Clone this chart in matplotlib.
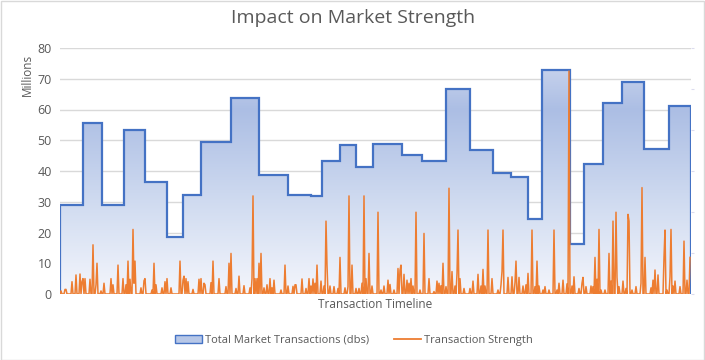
import numpy as np
import matplotlib
matplotlib.use("Agg")
import matplotlib.pyplot as plt
from matplotlib.colors import LinearSegmentedColormap
from matplotlib.patches import Rectangle, Patch, Polygon
from matplotlib.lines import Line2D

plt.rcParams["font.family"] = ["Open Sans", "DejaVu Sans"]

title = "Impact on Market Strength"
x_label = "Transaction Timeline"
y_unit_label = "Millions"
series_names = ["Total Market Transactions (dbs)", "Transaction Strength"]
y_ticks = [0, 10, 20, 30, 40, 50, 60, 70, 80]

# Total market transactions (millions): level and how many transactions it lasts
market_levels = [29.0, 55.5, 29.0, 53.3, 36.5, 18.5, 32.3, 49.3, 63.7, 38.8,
                 32.2, 31.8, 43.3, 48.4, 41.4, 48.8, 45.3, 43.3, 66.8, 46.9,
                 39.4, 38.1, 24.5, 73.0, 16.4, 42.4, 62.2, 68.8, 47.2, 61.2]
market_spans = [23, 19, 22, 21, 22, 16, 18, 30, 28, 29,
                23, 11, 18, 16, 17, 29, 20, 24, 24, 23,
                18, 17, 14, 28, 14, 19, 19, 22, 25, 22]

# Transaction strength (millions): transaction index and value (others are 0)
strength_index = [
    1, 5, 6, 12, 16, 20, 22, 23, 25, 30, 33, 36, 37, 41, 44, 51, 53, 58, 63, 66,
    68, 70, 73, 74, 75, 81, 84, 85, 92, 94, 96, 102, 105, 107,
    111, 120, 123, 124, 126, 128, 133, 139, 141, 144, 145, 151, 153, 159, 166, 169,
    171, 176, 179, 184, 190, 192, 193, 195, 197, 199, 201, 204, 207, 210, 212, 214,
    221, 225, 228, 233, 235, 236, 242, 246, 249, 251, 253, 255, 257, 261, 264, 266,
    267, 270, 274, 278, 280, 285, 288, 289, 292, 296, 299, 302, 304, 306, 309, 312, 318,
    321, 324, 328, 330, 334, 338, 340, 341, 344, 347, 349, 351, 353, 356, 360, 364,
    369, 374, 377, 379, 381, 383, 386, 389, 392, 395, 397, 398, 400, 404, 410, 413,
    418, 421, 423, 425, 428,
    432, 438, 441, 442, 443, 448, 452, 455, 456, 459, 463, 466, 468, 472, 475, 477,
    479, 483, 485, 489, 494, 497, 499, 503, 507, 509, 512, 514, 519, 522, 523, 526,
    531, 533, 535,
    537, 539, 541, 545, 549, 551, 553, 556, 557, 559, 563, 566, 568, 569, 572, 576,
    581, 582, 585, 591, 593, 595, 598, 604, 605, 607, 610, 611, 613, 615, 620, 624,
    627, 630]
strength_value = [
    1.0, 1.5, 1.5, 4.0, 6.2, 6.5, 4.0, 5.0, 5.0, 4.8, 16.0, 3.0, 10.0, 1.0, 3.5, 5.0, 3.0, 9.4, 5.0, 3.0,
    10.7, 4.8, 21.0, 3.5, 10.7, 2.0, 4.3, 5.0, 1.3, 10.0, 3.0, 2.0, 4.0, 5.0,
    2.0, 10.7, 4.5, 5.8, 5.0, 4.0, 1.5, 4.8, 5.0, 3.5, 3.0, 3.7, 10.7, 5.0, 2.4, 10.0,
    13.2, 1.8, 5.8, 2.7, 2.0, 5.0, 31.9, 5.0, 5.0, 10.0, 13.2, 2.0, 3.0, 5.0, 2.0, 4.5,
    1.3, 9.4, 2.6, 2.5, 3.0, 3.0, 4.9, 1.8, 5.0, 2.6, 4.9, 3.5, 9.4, 4.2, 2.6, 23.7,
    9.4, 2.6, 2.4, 1.8, 11.9, 2.0, 2.4, 31.9, 9.4, 1.8, 1.8, 3.5, 31.9, 5.0, 13.2, 2.6, 26.6,
    1.3, 2.6, 4.5, 3.1, 1.3, 8.3, 7.8, 9.4, 6.4, 4.5, 3.5, 5.0, 2.6, 26.6, 1.3, 19.7,
    5.0, 0.8, 4.2, 3.5, 2.7, 10.0, 2.4, 34.4, 7.3, 2.6, 6.7, 20.8, 5.0, 1.8, 1.8, 4.2,
    6.4, 2.6, 8.0, 2.6, 20.8,
    5.0, 1.3, 3.0, 7.3, 20.8, 5.4, 5.6, 3.7, 10.7, 5.4, 2.6, 3.0, 6.7, 20.8, 2.4, 10.7,
    2.6, 1.3, 2.4, 1.3, 20.8, 1.3, 3.5, 4.5, 3.3, 72.5, 2.6, 5.6, 1.8, 3.5, 5.4, 2.4,
    2.6, 2.4, 11.9,
    4.8, 21.0, 1.3, 1.3, 13.2, 4.2, 23.7, 26.6, 5.4, 2.4, 4.2, 1.8, 25.9, 23.7, 1.3, 2.4,
    3.5, 34.6, 11.9, 2.0, 4.5, 7.8, 6.2, 11.9, 20.8, 1.3, 5.6, 21.0, 2.6, 4.2, 2.4, 17.2,
    4.5, 11.9]

edges = np.concatenate([[0], np.cumsum(market_spans)])
n = int(edges[-1])
x = np.arange(n)
strength = np.zeros(n)
strength[np.array(strength_index)] = strength_value

W, H = 705, 360
fig = plt.figure(figsize=(W / 100, H / 100), dpi=100)
fig.patch.set_facecolor("white")

left_px, right_px, top_px, bottom_px = 60, 691, 48, 294
ax = fig.add_axes([left_px / W, 1 - bottom_px / H,
                   (right_px - left_px) / W, (bottom_px - top_px) / H])

# gridlines
for t in y_ticks:
    ax.axhline(t, color="#d9d9d9", lw=1.0, zorder=0)

# gradient area (step shape)
sx = np.repeat(edges, 2)[1:-1]
sy = np.repeat(np.array(market_levels), 2)
poly_pts = np.column_stack([np.concatenate([[edges[0]], sx, [edges[-1]]]),
                            np.concatenate([[0], sy, [0]])])
poly = Polygon(poly_pts, closed=True, facecolor="none", edgecolor="none")
ax.add_patch(poly)
top_val = max(market_levels)
cmap = LinearSegmentedColormap.from_list(
    "grad", [(0.0, "#f4f6fc"), (0.45, "#ccd8ef"), (0.82, "#acbee4"), (1.0, "#c5d1ec")])
grad = np.linspace(0, 1, 256).reshape(-1, 1)
im = ax.imshow(grad, extent=[0, n, 0, top_val], origin="lower", aspect="auto",
               cmap=cmap, zorder=1, interpolation="bilinear")
im.set_clip_path(poly)
ax.stairs(market_levels, edges, baseline=0, fill=False, color="#4472c4",
          lw=1.6, zorder=2)

# strength line
ax.plot(x, strength, color="#ed7d31", lw=1.1, zorder=3)

ax.set_xlim(0, n)
ax.set_ylim(0, 80)
ax.set_yticks(y_ticks)
ax.set_yticklabels([str(t) for t in y_ticks])
ax.set_xticks([])
ax.tick_params(axis="y", length=0, labelsize=9, labelcolor="#595959", pad=6)
for s in ax.spines.values():
    s.set_visible(False)

# faint secondary axis ticks
ax2 = ax.twinx()
ax2.set_ylim(0, 6)
ax2.set_yticks(range(7))
ax2.set_yticklabels([""] * 7)
ax2.tick_params(axis="y", length=2.5, color="#dcdcee", width=0.8)
for s in ax2.spines.values():
    s.set_visible(False)

fig.text(353 / W, 1 - 18 / H, title, ha="center", va="center",
         fontsize=14, color="#595959")
fig.text(375 / W, 1 - 304 / H, x_label, ha="center", va="center",
         fontsize=8.5, color="#595959")
fig.text(27 / W, 1 - 75 / H, y_unit_label, ha="center", va="center",
         rotation=90, fontsize=8.5, color="#595959")

handles = [Patch(facecolor="#b7c7e7", edgecolor="#4472c4", lw=1.0),
           Line2D([0], [0], color="#ed7d31", lw=1.3)]
fig.legend(handles, series_names, loc="center", bbox_to_anchor=(354 / W, 1 - 340 / H),
           ncol=2, frameon=False, fontsize=8, labelcolor="#595959",
           handlelength=2.4, handleheight=0.7, columnspacing=2.2, handletextpad=0.3)

fig.add_artist(Rectangle((0.5 / W, 0.5 / H), 1 - 1.5 / W, 1 - 1.5 / H,
                         transform=fig.transFigure, fill=False,
                         edgecolor="#d9d9d9", lw=1.0))

fig.savefig("out.png", dpi=100)
